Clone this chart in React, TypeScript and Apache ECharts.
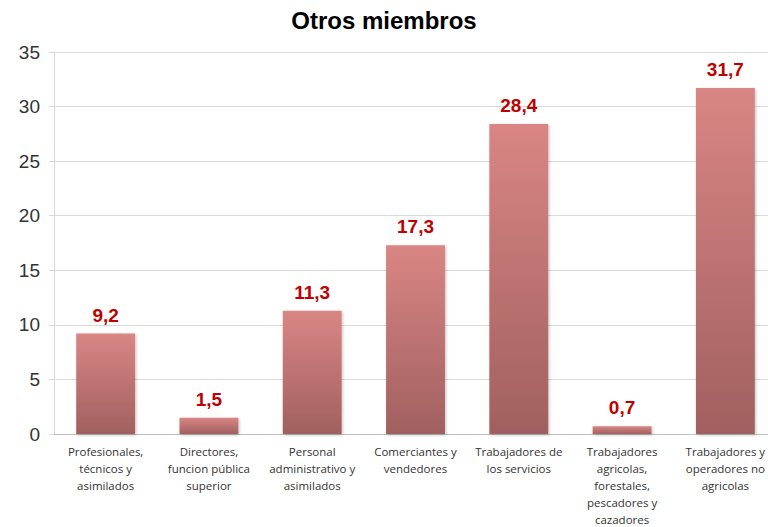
import React, { useEffect, useRef } from "react";
import * as echarts from "echarts";

const categories = [
  "Profesionales,\ntécnicos y\nasimilados",
  "Directores,\nfuncion pública\nsuperior",
  "Personal\nadministrativo y\nasimilados",
  "Comerciantes y\nvendedores",
  "Trabajadores de\nlos servicios",
  "Trabajadores\nagricolas,\nforestales,\npescadores y\ncazadores",
  "Trabajadores y\noperadores no\nagricolas",
];
const values = [9.2, 1.5, 11.3, 17.3, 28.4, 0.7, 31.7];
const title = "Otros miembros";

export default function App() {
  const ref = useRef<HTMLDivElement>(null);
  useEffect(() => {
    const chart = echarts.init(ref.current!, null, { renderer: "svg" });
    chart.setOption({
      animation: false,
      title: {
        text: title,
        left: "center",
        top: 3,
        textStyle: { fontFamily: "Liberation Sans", fontWeight: "bold", fontSize: 24, color: "#000" },
      },
      grid: { left: 54, width: 723, top: 52, bottom: 93, containLabel: false, outerBoundsMode: "none" },
      xAxis: {
        type: "category",
        data: categories,
        axisLine: { lineStyle: { color: "#bfbfbf" } },
        axisTick: { show: false },
        axisLabel: {
          interval: 0,
          fontFamily: "Open Sans",
          fontSize: 11.5,
          color: "#333",
          lineHeight: 17,
          margin: 9,
        },
      },
      yAxis: {
        type: "value",
        min: 0,
        max: 35,
        interval: 5,
        axisLine: { show: true, lineStyle: { color: "#d9d9d9" } },
        axisTick: { show: true, length: 5, lineStyle: { color: "#d9d9d9" } },
        splitLine: { lineStyle: { color: "#d9d9d9" } },
        axisLabel: { fontFamily: "Liberation Sans", fontSize: 19, color: "#333", margin: 14 },
      },
      series: [
        {
          type: "bar",
          data: values,
          barWidth: "57%",
          itemStyle: {
            color: new echarts.graphic.LinearGradient(0, 0, 0, 1, [
              { offset: 0, color: "#d98684" },
              { offset: 1, color: "#a0605f" },
            ]),
            shadowColor: "rgba(0,0,0,0.25)",
            shadowBlur: 3,
            shadowOffsetX: 1,
            shadowOffsetY: 1,
          },
          label: {
            show: true,
            position: "top",
            distance: 9,
            fontFamily: "Liberation Sans",
            fontWeight: "bold",
            fontSize: 19,
            color: "#c00000",
            formatter: (p: any) => String(p.value).replace(".", ","),
          },
        },
      ],
    });
    return () => chart.dispose();
  }, []);
  return <div ref={ref} style={{ width: 768, height: 527, position: "absolute", left: 0, top: 0 }} />;
}
